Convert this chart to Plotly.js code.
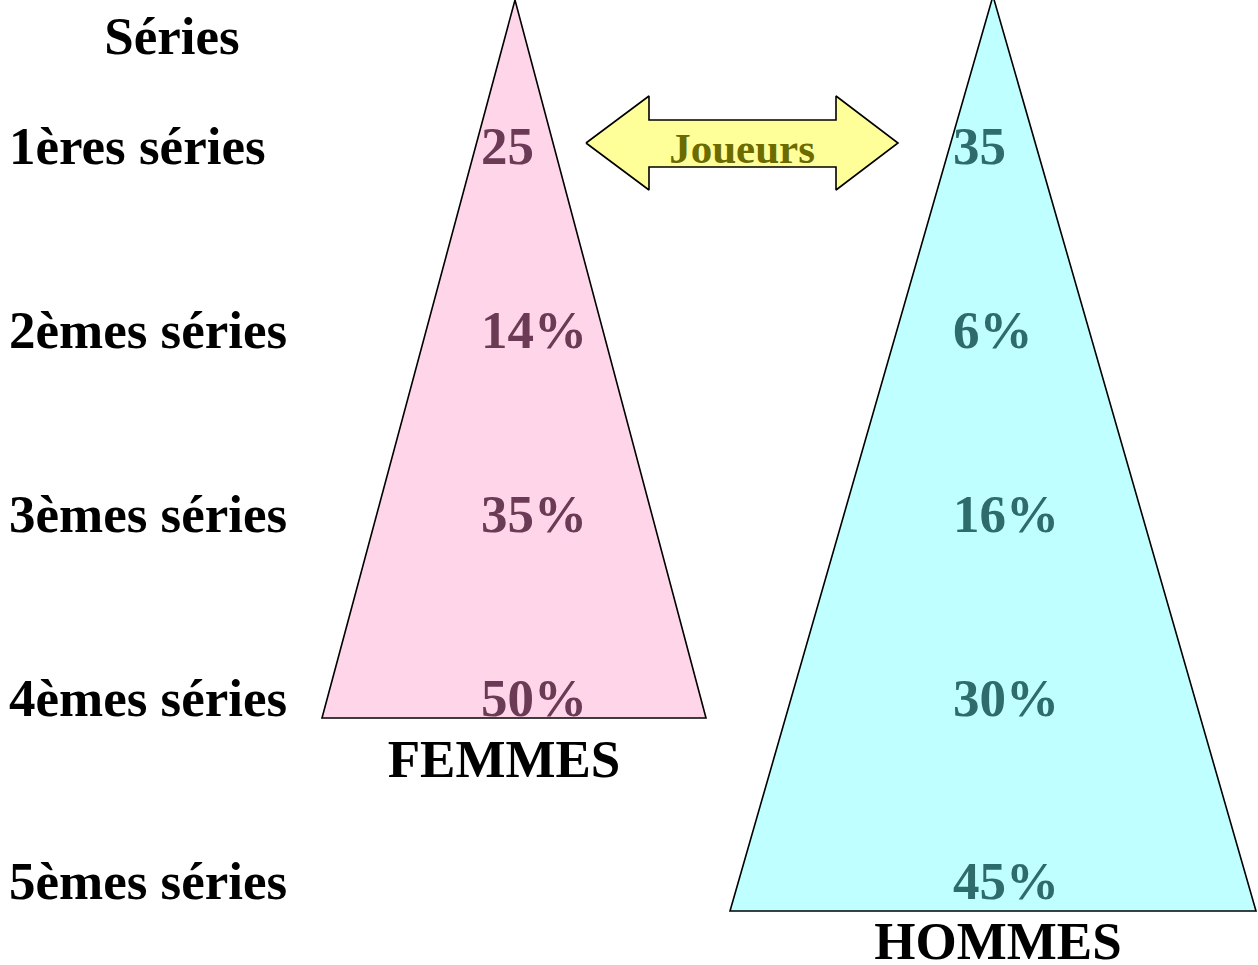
<!DOCTYPE html>
<html>
<head>
<meta charset="utf-8">
<script src="https://cdn.plot.ly/plotly-3.0.1.min.js"></script>
<style>html,body{margin:0;padding:0;background:#fff;}#chart{width:1258px;height:965px;}</style>
</head>
<body>
<div id="chart"></div>
<script>
// ---- data ----
var seriesHeader = "Séries";
var seriesLabels = ["1ères séries", "2èmes séries", "3èmes séries", "4èmes séries", "5èmes séries"];
var femmesLabels = ["25", "14%", "35%", "50%"];
var hommesLabels = ["35", "6%", "16%", "30%", "45%"];
var groupNames = ["FEMMES", "HOMMES"];
var arrowLabel = "Joueurs";

// ---- layout geometry (pixel-like coordinate system) ----
var rowY = [151, 335, 519, 703, 886];
var FONT = "Liberation Serif, Times New Roman, serif";
var FS = 53;

var femTri = {x: [515, 322, 706, 515], y: [0, 718, 718, 0]};
var homTri = {x: [993, 730, 1256, 993], y: [-4, 911, 911, -4]};
var arrow = {
  x: [586, 649, 649, 836, 836, 898, 836, 836, 649, 649, 586],
  y: [143, 96, 120, 120, 96, 143, 190, 167, 167, 190, 143]
};

function bold(a){ return a.map(function(s){ return "<b>" + s + "</b>"; }); }

var traces = [
  {type: "scatter", mode: "lines", x: femTri.x, y: femTri.y, fill: "toself",
   fillcolor: "#FFD5EA", line: {color: "#000", width: 1.6}, hoverinfo: "skip"},
  {type: "scatter", mode: "lines", x: homTri.x, y: homTri.y, fill: "toself",
   fillcolor: "#C0FFFF", line: {color: "#000", width: 1.6}, hoverinfo: "skip"},
  {type: "scatter", mode: "lines", x: arrow.x, y: arrow.y, fill: "toself",
   fillcolor: "#FFFF99", line: {color: "#000", width: 1.6}, hoverinfo: "skip"},
  // series labels
  {type: "scatter", mode: "text", x: seriesLabels.map(function(){return 9;}), y: rowY.slice(0, seriesLabels.length),
   text: bold(seriesLabels), textposition: "middle right", cliponaxis: false,
   textfont: {family: FONT, size: FS, color: "#000"}, hoverinfo: "skip"},
  {type: "scatter", mode: "text", x: [172], y: [41], text: bold([seriesHeader]),
   textposition: "middle center", cliponaxis: false,
   textfont: {family: FONT, size: FS, color: "#000"}, hoverinfo: "skip"},
  // femmes values
  {type: "scatter", mode: "text", x: femmesLabels.map(function(){return 481;}), y: rowY.slice(0, femmesLabels.length),
   text: bold(femmesLabels), textposition: "middle right", cliponaxis: false,
   textfont: {family: FONT, size: FS, color: "#6B3A55"}, hoverinfo: "skip"},
  // hommes values
  {type: "scatter", mode: "text", x: hommesLabels.map(function(){return 953;}), y: rowY.slice(0, hommesLabels.length),
   text: bold(hommesLabels), textposition: "middle right", cliponaxis: false,
   textfont: {family: FONT, size: FS, color: "#2E6B6B"}, hoverinfo: "skip"},
  // group names
  {type: "scatter", mode: "text", x: [504, 998], y: [764, 946], text: bold(groupNames),
   textposition: "middle center", cliponaxis: false,
   textfont: {family: FONT, size: FS, color: "#000"}, hoverinfo: "skip"},
  // arrow label
  {type: "scatter", mode: "text", x: [742], y: [152], text: bold([arrowLabel]),
   textposition: "middle center", cliponaxis: false,
   textfont: {family: FONT, size: 43, color: "#6B6B00"}, hoverinfo: "skip"}
];

var layout = {
  width: 1258, height: 965,
  margin: {l: 0, r: 0, t: 0, b: 0},
  paper_bgcolor: "#fff", plot_bgcolor: "#fff",
  showlegend: false,
  xaxis: {range: [0, 1258], visible: false, fixedrange: true},
  yaxis: {range: [965, 0], visible: false, fixedrange: true}
};

Plotly.newPlot("chart", traces, layout, {staticPlot: true});
</script>
</body>
</html>
